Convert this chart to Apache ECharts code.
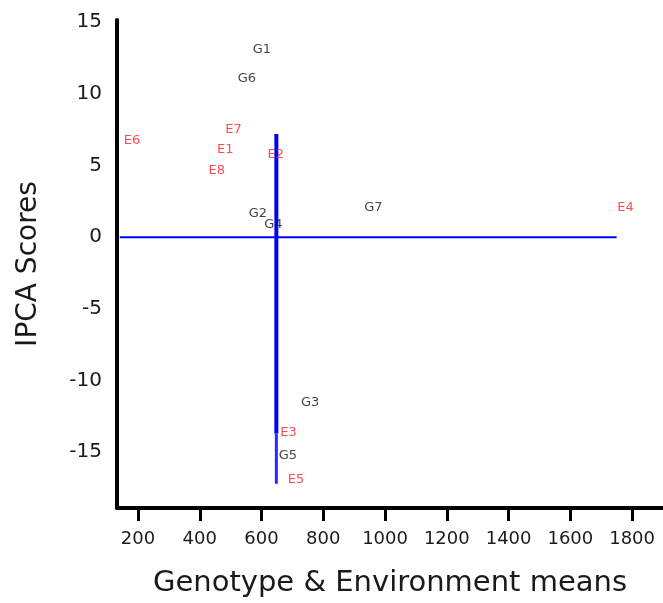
<!DOCTYPE html>
<html>
<head>
<meta charset="utf-8">
<script src="https://cdn.jsdelivr.net/npm/echarts@6/dist/echarts.min.js"></script>
<style>html,body{margin:0;padding:0;background:#fff;}#c{width:663px;height:603px;}</style>
</head>
<body>
<div id="c"></div>
<script>
const genoNames = ['G1','G2','G3','G4','G5','G6','G7'];
const genoMeans = [570,557,726,607,654,521,931];
const genoIPCA  = [13.11,1.64,-11.54,0.85,-15.27,11.04,2.05];
const envNames = ['E1','E2','E3','E4','E5','E6','E7','E8'];
const envMeans = [454,618,659,1750,683,152,481,427];
const envIPCA  = [6.08,5.74,-13.61,2.05,-16.93,6.70,7.48,4.65];
const grandMean = 648;
const hLineX = [141,1750];
const vLineY = [7.2,-13.7,-17.2];
const xTicks = [200,400,600,800,1000,1200,1400,1600,1800];
const yTicks = [-15,-10,-5,0,5,10,15];

const chart = echarts.init(document.getElementById('c'), null, {renderer:'canvas'});
const font = 'DejaVu Sans';
function pts(xs, ys, ns){ return xs.map((x,i)=>[x, ys[i], ns[i]]); }
function labelSeries(xs, ys, ns, color){
  return {
    type:'scatter', symbolSize:1, itemStyle:{color:'rgba(0,0,0,0)'},
    data: pts(xs, ys, ns), z:5,
    label:{show:true, position:'right', distance:0, color:color, fontFamily:font, fontSize:13,
      formatter:p=>p.data[2]}
  };
}
chart.setOption({
  animation:false,
  grid:{left:117, right:0, top:20, bottom:90, containLabel:false},
  xAxis:{
    type:'value', min:132, max:1900,
    name:'Genotype & Environment means', nameLocation:'middle', nameGap:61,
    nameTextStyle:{fontFamily:font, fontSize:29, color:'#1a1a1a'},
    axisLine:{show:true, onZero:false, lineStyle:{color:'#000', width:4}},
    axisTick:{show:true, length:13, customValues:xTicks, lineStyle:{color:'#000', width:3}},
    axisLabel:{customValues:xTicks, margin:22, fontFamily:font, fontSize:18, color:'#1a1a1a', formatter:v=>String(v)},
    splitLine:{show:false}
  },
  yAxis:{
    type:'value', min:-18.9, max:15.15,
    name:'IPCA Scores', nameLocation:'middle', nameGap:74,
    nameTextStyle:{fontFamily:font, fontSize:28, color:'#1a1a1a'},
    axisLine:{show:true, onZero:false, lineStyle:{color:'#000', width:4}},
    axisTick:{show:false},
    axisLabel:{customValues:yTicks, margin:15, fontFamily:font, fontSize:20, color:'#1a1a1a', formatter:v=>String(v)},
    splitLine:{show:false}
  },
  series:[
    {type:'line', data:[[hLineX[0],0],[hLineX[1],0]], symbol:'none', lineStyle:{color:'#0000ff', width:2}, z:3},
    {type:'line', data:[[grandMean,vLineY[0]],[grandMean,vLineY[1]]], symbol:'none', lineStyle:{color:'#0000ff', width:4}, z:3},
    {type:'line', data:[[grandMean,vLineY[1]],[grandMean,vLineY[2]]], symbol:'none', lineStyle:{color:'#2a2aff', width:3}, z:3},
    labelSeries(genoMeans, genoIPCA, genoNames, '#111'),
    labelSeries(envMeans, envIPCA, envNames, '#ff2020')
  ]
});
</script>
</body>
</html>
